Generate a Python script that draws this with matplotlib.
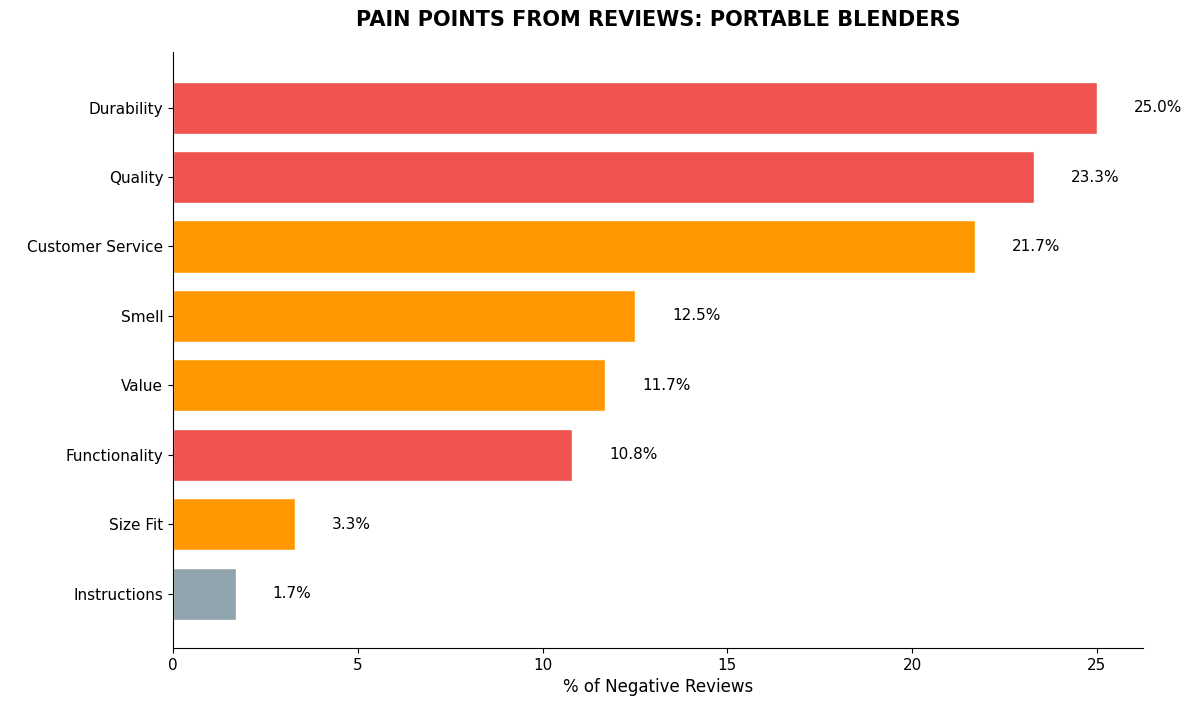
import matplotlib
matplotlib.use("Agg")
import matplotlib.pyplot as plt

categories = ["Durability", "Quality", "Customer Service", "Smell", "Value",
              "Functionality", "Size Fit", "Instructions"]
values = [25.0, 23.3, 21.7, 12.5, 11.7, 10.8, 3.3, 1.7]
colors = ["#EF5350", "#EF5350", "#FF9800", "#FF9800", "#FF9800",
          "#EF5350", "#FF9800", "#90A4AE"]

fig = plt.figure(figsize=(12, 7.14), dpi=100)
ax = fig.add_axes([173/1200, 1-648/714, (1143-173)/1200, (648-52)/714])
y = list(range(len(categories)))
ax.barh(y, values, height=0.75, color=colors, edgecolor="white", linewidth=1)
for yi, v in zip(y, values):
    ax.text(v + 1.0, yi, f"{v:.1f}%", va="center", ha="left", fontsize=11)
ax.set_yticks(y)
ax.set_yticklabels(categories, fontsize=11)
ax.set_ylim(len(categories) - 1 + 0.78, -0.8)
ax.set_xlim(0, 26.25)
ax.set_xticks([0, 5, 10, 15, 20, 25])
ax.tick_params(axis="x", labelsize=11)
ax.set_xlabel("% of Negative Reviews", fontsize=12)
ax.spines["top"].set_visible(False)
ax.spines["right"].set_visible(False)
fig.suptitle("PAIN POINTS FROM REVIEWS: PORTABLE BLENDERS", fontsize=15,
             fontweight="bold", x=(173+1143)/2/1200, y=1-20/714, va="center")
fig.savefig("out.png", dpi=100)
